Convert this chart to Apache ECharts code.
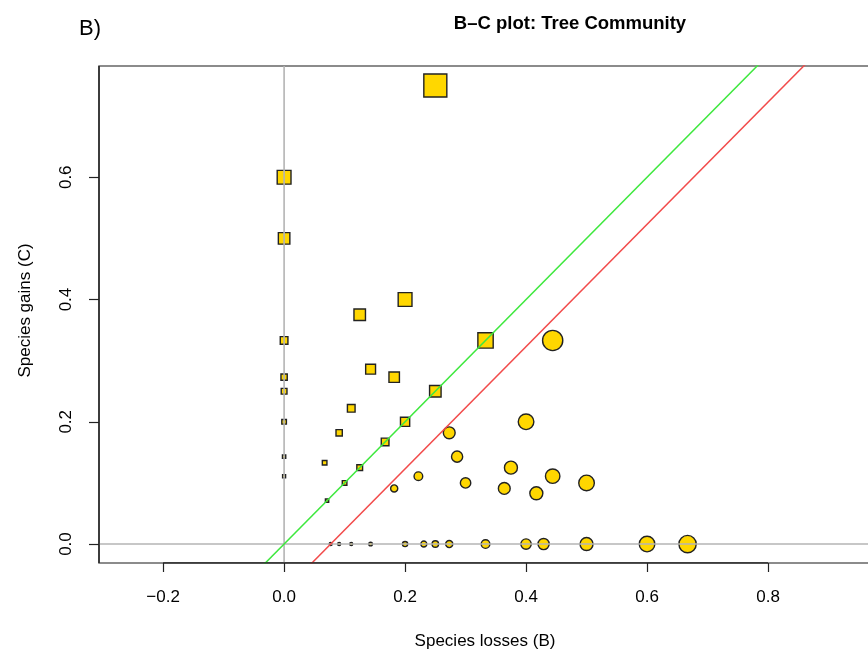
<!DOCTYPE html>
<html lang="en" style="height: 100%">
<head>
  <meta charset="utf-8">
</head>
<body style="height: 100%; margin: 0; background: #fff">
  <div id="container" style="width: 868px; height: 655px"></div>
  <script type="text/javascript" src="https://fastly.jsdelivr.net/npm/echarts@6/dist/echarts.min.js"></script>
  <script type="text/javascript">
    // points where gains >= losses (squares)
    var squareB = [0.25, 0, 0, 0, 0, 0, 0, 0, 0, 0.2, 0.125, 0.333, 0.143, 0.182, 0.25, 0.111, 0.2, 0.091, 0.167, 0.067, 0.125, 0.1, 0.071];
    var squareC = [0.75, 0.6, 0.5, 0.333, 0.273, 0.25, 0.2, 0.143, 0.111, 0.4, 0.375, 0.333, 0.286, 0.273, 0.25, 0.222, 0.2, 0.182, 0.167, 0.133, 0.125, 0.1, 0.071];
    // points where losses > gains (circles)
    var circleB = [0.444, 0.273, 0.4, 0.286, 0.375, 0.444, 0.222, 0.3, 0.364, 0.5, 0.417, 0.182,
                   0.077, 0.091, 0.111, 0.143, 0.2, 0.231, 0.25, 0.273, 0.333, 0.4, 0.429, 0.5, 0.6, 0.667];
    var circleC = [0.333, 0.182, 0.2, 0.143, 0.125, 0.111, 0.111, 0.1, 0.091, 0.1, 0.083, 0.091,
                   0, 0, 0, 0, 0, 0, 0, 0, 0, 0, 0, 0, 0, 0];

    var xTicks = [-0.2, 0, 0.2, 0.4, 0.6, 0.8];
    var yTicks = [0, 0.2, 0.4, 0.6];
    var xRange = [-0.306, 1.0];
    var yRange = [-0.031, 0.782];

    // ablines: C = a + b * B
    var greenLine = { a: 0, b: 1 };
    var redLine = { a: -0.077, b: 1 };

    function pairs(xs, ys) {
      return xs.map(function (x, i) { return [x, ys[i]]; });
    }
    function abline(l) {
      return [[xRange[0], l.a + l.b * xRange[0]], [xRange[1], l.a + l.b * xRange[1]]];
    }
    function fmt(v) {
      return v.toFixed(1).replace('-', '\u2212');
    }

    var font = 'Liberation Sans, Arial, Helvetica, sans-serif';
    var chart = echarts.init(document.getElementById('container'), null, { renderer: 'canvas' });

    var option = {
      backgroundColor: '#fff',
      animation: false,
      title: [
        {
          text: 'B\u2013C plot: Tree Community',
          left: 565, top: 9, textAlign: 'center',
          textStyle: { fontFamily: font, fontSize: 18.5, fontWeight: 'bold', color: '#000' }
        },
        {
          text: 'B)',
          left: 74, top: 13,
          textStyle: { fontFamily: font, fontSize: 22, fontWeight: 'normal', color: '#000' }
        }
      ],
      grid: {
        left: 99, top: 66, width: 790, height: 497,
        outerBoundsMode: 'none', containLabel: false,
        show: true, borderColor: '#666', borderWidth: 1.5, backgroundColor: 'transparent'
      },
      xAxis: {
        type: 'value', min: xRange[0], max: xRange[1],
        name: 'Species losses (B)', nameLocation: 'middle', nameGap: 70,
        nameTextStyle: { fontFamily: font, fontSize: 17, color: '#000', padding: [0, 18, 0, 0] },
        axisLine: { show: false, onZero: false },
        axisTick: { show: true, customValues: xTicks, length: 9, lineStyle: { color: '#222', width: 1.2 } },
        axisLabel: { customValues: xTicks, formatter: fmt, margin: 26, fontFamily: font, fontSize: 17, color: '#000' },
        splitLine: { show: false }
      },
      yAxis: {
        type: 'value', min: yRange[0], max: yRange[1],
        name: 'Species gains (C)', nameLocation: 'middle', nameGap: 65,
        nameTextStyle: { fontFamily: font, fontSize: 17, color: '#000', padding: [0, 0, 0, 8] },
        axisLine: { show: false, onZero: false },
        axisTick: { show: true, customValues: yTicks, length: 10, lineStyle: { color: '#222', width: 1.2 } },
        axisLabel: { customValues: yTicks, formatter: fmt, rotate: 90, margin: 24, fontFamily: font, fontSize: 17, color: '#000' },
        splitLine: { show: false }
      },
      series: [
        {
          type: 'scatter', symbol: 'rect', z: 2,
          data: pairs(squareB, squareC),
          symbolSize: function (v) { return Math.max(3, 23 * (v[0] + v[1])); },
          itemStyle: { color: '#FFD700', borderColor: '#222', borderWidth: 1.4, opacity: 1 }
        },
        {
          type: 'scatter', symbol: 'circle', z: 2,
          data: pairs(circleB, circleC),
          symbolSize: function (v) { return Math.max(3, 26 * (v[0] + v[1])); },
          itemStyle: { color: '#FFD700', borderColor: '#222', borderWidth: 1.4, opacity: 1 }
        },
        {
          type: 'line', z: 3, symbol: 'none', silent: true,
          data: [[0, yRange[0]], [0, yRange[1]]],
          lineStyle: { color: '#b4b4b4', width: 1.6 }
        },
        {
          type: 'line', z: 3, symbol: 'none', silent: true,
          data: [[xRange[0], 0], [xRange[1], 0]],
          lineStyle: { color: '#b4b4b4', width: 1.6 }
        },
        {
          type: 'line', z: 4, symbol: 'none', silent: true,
          data: abline(greenLine),
          lineStyle: { color: '#3ee83e', width: 1.5 }
        },
        {
          type: 'line', z: 4, symbol: 'none', silent: true,
          data: abline(redLine),
          lineStyle: { color: '#f24b4b', width: 1.5 }
        },
        {
          // R-style axis segments spanning the tick range
          type: 'line', z: 5, symbol: 'none', silent: true,
          data: [[xTicks[0], yRange[0]], [xTicks[xTicks.length - 1], yRange[0]]],
          lineStyle: { color: '#222', width: 1.5 }
        },
        {
          type: 'line', z: 5, symbol: 'none', silent: true,
          data: [[xRange[0], yRange[0]], [xRange[0], yRange[1]]],
          lineStyle: { color: '#222', width: 1.5 }
        }
      ]
    };

    chart.setOption(option);
    window.addEventListener('resize', chart.resize);
  </script>
</body>
</html>
